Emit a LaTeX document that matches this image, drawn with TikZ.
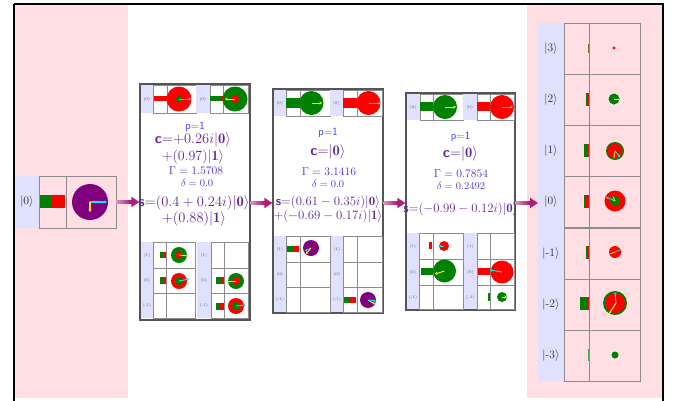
\RequirePackage{fix-cm}
\documentclass[tikz,border=0pt]{standalone}
\usepackage{fontspec}
\usetikzlibrary{arrows.meta,calc}
\definecolor{pinkbg}{RGB}{255,222,228}
\definecolor{labbg}{RGB}{224,224,255}
\definecolor{cellgray}{RGB}{140,140,140}
\definecolor{qgreen}{RGB}{0,128,0}
\definecolor{qred}{RGB}{255,0,0}
\definecolor{qpurple}{RGB}{128,0,128}
\definecolor{qcyan}{RGB}{0,235,255}
\definecolor{qyellow}{RGB}{255,240,0}
\definecolor{arrmag}{RGB}{175,30,120}
\definecolor{arrlight}{RGB}{215,150,190}
\definecolor{framegray}{RGB}{85,85,85}
\definecolor{pblue}{RGB}{60,60,250}
\definecolor{cpurple}{RGB}{100,40,150}
\definecolor{gblue}{RGB}{80,60,215}
\definecolor{ketgray}{RGB}{90,90,90}
\definecolor{tinybrown}{RGB}{140,110,40}

\newcommand\qrow[8]{%
  \fill[labbg] (#2,#6) rectangle (#3,#7);
  \draw[cellline] (#3,#6) rectangle (#4,#7) (#4,#6) rectangle (#5,#7);
  \node[tinyket] (#1) at ({(#2+#3)/2},{(#6+#7)/2}) {$|$#8$\rangle$};
}
\newcommand\qbar[5]{%
  \fill[qgreen] (#1,#4) rectangle (#2,#5);
  \fill[qred] (#2,#4) rectangle (#3,#5);
}
\newcommand\qcirc[6]{%
  \fill[#4] (#1,#2) circle[radius=#3];
  \fill[#6] (#1,#2) circle[radius=#5];
}
\newcommand\bigarr[2]{%
  \draw[bigarrow] (#1) -- (#2);
  \shade[left color=arrlight,right color=arrmag] ($(#1)+(0,-1.75)$) rectangle ($(#1)!0.6!(#2)+(0,1.75)$);
}

\begin{document}
\begin{tikzpicture}[x=1pt,y=-1pt,
  cellline/.style={draw=cellgray,line width=0.6pt},
  tinyket/.style={font=\fontsize{4}{4}\selectfont,text=ketgray,inner sep=0pt},
  bigket/.style={font=\fontsize{11.5}{12}\selectfont,text=black!85,inner sep=0pt},
  framebox/.style={draw=framegray,line width=1.3pt,fill=white,inner sep=0pt},
  ghost/.style={inner sep=0pt,outer sep=0pt},
  ptxt/.style={font=\sffamily\fontsize{11}{12}\selectfont,text=pblue,inner sep=0pt},
  ctxt/.style={font=\fontsize{14.5}{15}\selectfont,text=cpurple,inner sep=0pt},
  stxt/.style={font=\fontsize{12.8}{13}\selectfont,text=cpurple,inner sep=0pt},
  gtxt/.style={font=\fontsize{11.5}{12}\selectfont,text=gblue,inner sep=0pt},
  dtxt/.style={font=\fontsize{10.5}{11}\selectfont,text=gblue,inner sep=0pt},
  cyarr/.style={draw=qcyan,line width=0.9pt,-{Stealth[length=2.5pt,width=3pt]}},
  yearr/.style={draw=qyellow,line width=0.9pt,-{Stealth[length=2.5pt,width=3pt]}},
  bigarrow/.style={draw=arrmag,line width=3.5pt,-{Triangle[length=8pt,width=10pt]}}
]
\useasboundingbox (0,0) rectangle (677,400);
% backgrounds
\fill[pinkbg] (15,5) rectangle (128,398);
\fill[pinkbg] (527,5) rectangle (662,398);
\draw[black,line width=2pt] (14,4) -- (663,4) -- (663,410) (14,4) -- (14,410);

% ---------- initial state ----------
\node[ghost,minimum width=101pt,minimum height=52pt] (init) at (65.5,202) {};
\fill[labbg] (15,176) rectangle (39,228);
\node[bigket] (initlab) at (27,202) {$|0\rangle$};
\draw[cellline] (39,176) rectangle (66,228) (66,176) rectangle (116,228);
\qbar{40}{52}{65}{195}{208}
\fill[qpurple] (90,202) circle[radius=18];
\draw[cyarr,line width=1.4pt] (90,202) -- (107,202);
\draw[yearr,line width=1.4pt] (90,202) -- (90,212);

% ---------- box 1 ----------
\node[framebox,minimum width=110pt,minimum height=236pt] (box1) at (195,202) {};
\qrow{b1ta}{141}{153}{167}{196}{85}{113}{0}
\qrow{b1tb}{196}{210}{223}{248}{85}{113}{0}
\fill[qred] (154,96) rectangle (167,101);
\qcirc{179}{99}{12.5}{qred}{3}{qgreen}
\draw[cyarr] (179,99) -- (191,99);
\qbar{210}{221}{223}{96}{101}
\qcirc{235}{99}{12.5}{qgreen}{4}{qred}
\draw[yearr] (235,99) -- (225,99);
\node[ptxt] (b1p) at (195,127) {p=1};
\node[ctxt] (b1c) at (193,140) {\textsf{\textbf{c}}=$+0.26i|\mathbf{0}\rangle$};
\node[stxt,font=\fontsize{14}{15}\selectfont] (b1c2) at (193,157) {$+(0.97)|\mathbf{1}\rangle$};
\node[gtxt] (b1g) at (196,170.5) {$\Gamma=1.5708$};
\node[dtxt] (b1d) at (197,183) {$\delta=0.0$};
\node[ctxt] (b1s) at (194,203) {\textsf{\textbf{s}}=$(0.4+0.24i)|\mathbf{0}\rangle$};
\node[ctxt] (b1s2) at (194,219) {$+(0.88)|\mathbf{1}\rangle$};
% bottom grids
\qrow{b1l1}{141}{153}{166}{195}{242}{268}{1}
\qrow{b1l2}{141}{153}{166}{195}{268}{293}{0}
\qrow{b1l3}{141}{153}{166}{195}{293}{318}{-1}
\qrow{b1r1}{197}{211}{224}{248}{242}{268}{1}
\qrow{b1r2}{197}{211}{224}{248}{268}{293}{0}
\qrow{b1r3}{197}{211}{224}{248}{293}{318}{-1}
\qbar{160}{164}{166}{252}{258}
\qcirc{179}{255}{8}{qgreen}{3.5}{qred}
\draw[yearr] (179,255) -- (189,256);
\qbar{160}{163}{166}{277}{284}
\qcirc{179}{281}{8}{qred}{4}{qgreen}
\draw[cyarr] (179,281) -- (189,279);
\qbar{216}{221}{224}{277}{284}
\qcirc{236}{281}{8}{qgreen}{4}{qred}
\draw[yearr] (236,281) -- (226,281);
\qbar{216}{219}{224}{303}{310}
\qcirc{236}{306}{8}{qred}{4}{qgreen}
\draw[cyarr] (236,306) -- (246,305);

% ---------- box 2 ----------
\node[framebox,minimum width=110pt,minimum height=224pt] (box2) at (328,201) {};
\qrow{b2ta}{274}{286}{300}{330}{90}{116}{0}
\qrow{b2tb}{330}{343}{357}{382}{90}{116}{0}
\fill[qgreen] (286,98) rectangle (300,108);
\fill[qgreen] (311.5,103) circle[radius=12];
\draw[yearr] (311.5,103) -- (322,103);
\fill[qred] (343,98) rectangle (357,108);
\fill[qred] (368.5,103) circle[radius=12];
\draw[cyarr] (368.5,103) -- (381,103);
\node[ptxt] (b2p) at (328,133) {p=1};
\node[ctxt] (b2c) at (328,152) {\textsf{\textbf{c}}=$|\mathbf{0}\rangle$};
\node[gtxt] (b2g) at (329,172) {$\Gamma=3.1416$};
\node[dtxt] (b2d) at (328,184) {$\delta=0.0$};
\node[stxt] (b2s) at (328,202.5) {\textsf{\textbf{s}}=$(0.61-0.35i)|\mathbf{0}\rangle$};
\node[stxt] (b2s2) at (328,216.5) {$+(-0.69-0.17i)|\mathbf{1}\rangle$};
\qrow{b2l1}{274}{286}{300}{330}{236}{262}{1}
\qrow{b2l2}{274}{286}{300}{330}{262}{287}{0}
\qrow{b2l3}{274}{286}{300}{330}{287}{312}{-1}
\qrow{b2r1}{331}{343}{357}{382}{236}{262}{1}
\qrow{b2r2}{331}{343}{357}{382}{262}{287}{0}
\qrow{b2r3}{331}{343}{357}{382}{287}{312}{-1}
\qbar{287}{293}{299}{246}{252}
\fill[qpurple] (311,248) circle[radius=8];
\draw[cyarr] (311,248) -- (305,251);
\draw[yearr] (311,248) -- (306,254);
\qbar{344}{350}{356}{297}{303}
\fill[qpurple] (368,300) circle[radius=8];
\draw[yearr] (368,300) -- (375,304);
\draw[cyarr] (368,300) -- (376,301);

% ---------- box 3 ----------
\node[framebox,minimum width=109pt,minimum height=217pt] (box3) at (460.5,201.5) {};
\qrow{b3ta}{407}{420}{433}{463}{94}{120}{0}
\qrow{b3tb}{463}{477}{490}{514}{94}{120}{0}
\fill[qgreen] (420,102) rectangle (433,111);
\fill[qgreen] (445,107) circle[radius=12];
\draw[yearr] (445,107) -- (456,107);
\fill[qred] (477,102) rectangle (490,111);
\fill[qred] (502,107) circle[radius=12];
\draw[cyarr] (502,107) -- (513,107);
\node[ptxt] (b3p) at (460.5,137) {p=1};
\node[ctxt] (b3c) at (460.5,154) {\textsf{\textbf{c}}=$|\mathbf{0}\rangle$};
\node[gtxt] (b3g) at (461,174) {$\Gamma=0.7854$};
\node[dtxt] (b3d) at (461,186) {$\delta=0.2492$};
\node[stxt] (b3s) at (460.5,209) {\textsf{\textbf{s}}=$(-0.99-0.12i)|\mathbf{0}\rangle$};
\qrow{b3l1}{407}{419}{433}{463}{233}{259}{1}
\qrow{b3l2}{407}{419}{433}{463}{259}{285}{0}
\qrow{b3l3}{407}{419}{433}{463}{285}{309}{-1}
\qrow{b3r1}{464}{477}{490}{514}{233}{259}{1}
\qrow{b3r2}{464}{477}{490}{514}{259}{285}{0}
\qrow{b3r3}{464}{477}{490}{514}{285}{309}{-1}
\fill[qred] (429,242) rectangle (432,249);
\fill[qred] (444,246) circle[radius=5];
\draw[cyarr] (444,246) -- (439,246);
\fill[qgreen] (421,268) rectangle (433,275);
\fill[qgreen] (444.5,271) circle[radius=11.5];
\draw[yearr] (444.5,271) -- (435,274);
\fill[qred] (478,268) rectangle (490,275);
\fill[qred] (502,272) circle[radius=11.5];
\draw[cyarr] (502,272) -- (490,270);
\fill[qgreen] (488,293) rectangle (490,301);
\fill[qgreen] (502,297) circle[radius=5];
\draw[yearr] (502,297) -- (507,297);

% ---------- final state ----------
\node[ghost,minimum width=102pt,minimum height=358pt] (final) at (589,202) {};
\fill[labbg] (538,23) rectangle (564,381);
\foreach \yy/\lab [count=\i] in {23/3,74/2,125/1,176/0,228/-1,279/-2,330/-3}{
  \draw[cellline] (564,\yy) rectangle (589,\yy+51) (589,\yy) rectangle (640,\yy+51);
  \node[bigket] (fk\i) at (551,\yy+25.5) {$|$\lab$\rangle$};
}
% |3>
\fill[tinybrown] (588,44) rectangle (589,53);
\fill[qred] (614,48) circle[radius=1.6];
% |2>
\qbar{586}{588}{589}{93}{106}
\fill[qgreen] (614,99) circle[radius=5.5];
\draw[qyellow,line width=0.8pt] (614,99) -- (619,99);
% |1>
\qbar{584}{587}{589}{144}{157}
\qcirc{615}{151}{9}{qgreen}{7.5}{qred}
\draw[cyarr] (615,151) -- (620,157);
\draw[qyellow,line width=0.9pt] (615,151) -- (614,158);
% |0>
\qbar{584}{586}{589}{195}{208}
\qcirc{615}{201}{10.5}{qred}{5}{qgreen}
\draw[cyarr] (615,201) -- (606,197);
\draw[qyellow,line width=0.9pt] (615,201) -- (613,197);
% |-1>
\qbar{586}{588}{589}{246}{259}
\fill[qred] (615,252) circle[radius=6];
\draw[qyellow,line width=0.8pt] (615,252) -- (610,254);
\draw[qcyan,line width=0.8pt] (615,252) -- (620,250);
% |-2>
\qbar{580}{587}{589}{297}{310}
\qcirc{615}{303}{12}{qgreen}{10}{qred}
\draw[cyarr] (616,303) -- (615,292);
\draw[qyellow,line width=1.2pt] (616,303) -- (609,314);
% |-3>
\fill[qgreen!70] (588,349) rectangle (589,361);
\fill[qgreen] (615,355) circle[radius=3.5];

% ---------- connectors ----------
\coordinate (a1s) at (init.east);
\coordinate (a1e) at (box1.west |- init.east);
\coordinate (a2s) at (box1.east |- 0,203);
\coordinate (a2e) at (box2.west |- 0,203);
\coordinate (a3s) at (box2.east |- 0,203);
\coordinate (a3e) at (box3.west |- 0,203);
\coordinate (a4s) at (box3.east |- 0,203);
\coordinate (a4e) at (final.west |- 0,203);
\bigarr{a1s}{a1e}
\bigarr{a2s}{a2e}
\bigarr{a3s}{a3e}
\bigarr{a4s}{a4e}
\end{tikzpicture}
\end{document}
